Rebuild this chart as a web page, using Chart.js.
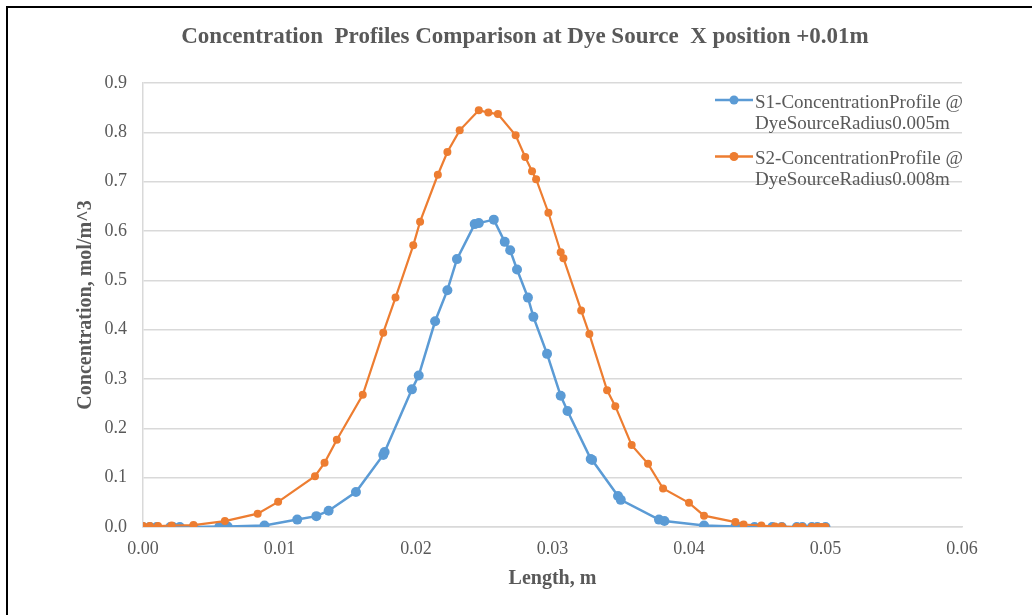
<!DOCTYPE html>
<html>
<head>
<meta charset="utf-8">
<script src="https://cdn.jsdelivr.net/npm/chart.js@4.4.0/dist/chart.umd.min.js"></script>
<style>
  html, body { margin: 0; background: #fff; overflow: hidden; }
  #wrap { position: relative; width: 1032px; height: 615px; overflow: hidden; }
  #frame { position: absolute; left: 6px; top: 6px; width: 1100px; height: 700px; border: 2px solid #000; pointer-events: none; }
</style>
</head>
<body>
<div id="wrap">
  <canvas id="myChart" width="1032" height="615"></canvas>
  <div id="frame"></div>
</div>
<script>
// values
var s1Length = [0.0000, 0.0005, 0.0010, 0.0020, 0.0022, 0.0027, 0.0037, 0.0056, 0.0062, 0.0089,
  0.0113, 0.0127, 0.0136, 0.0156, 0.0176, 0.0177, 0.0197, 0.0202, 0.0214, 0.0223,
  0.0230, 0.0243, 0.0246, 0.0257, 0.0265, 0.0269, 0.0274, 0.0282, 0.0286, 0.0296,
  0.0306, 0.0311, 0.0328, 0.0329, 0.0348, 0.0350, 0.0378, 0.0382, 0.0411, 0.0434,
  0.0439, 0.0448, 0.0461, 0.0468, 0.0479, 0.0483, 0.0490, 0.0494, 0.0500];
var s1Conc = [0.000, 0.000, 0.000, 0.000, 0.000, 0.000, 0.000, 0.001, 0.001, 0.003,
  0.015, 0.022, 0.033, 0.071, 0.146, 0.152, 0.279, 0.307, 0.417, 0.480,
  0.543, 0.614, 0.616, 0.623, 0.578, 0.561, 0.522, 0.465, 0.426, 0.351,
  0.266, 0.235, 0.138, 0.136, 0.063, 0.055, 0.015, 0.012, 0.003, 0.001,
  0.001, 0.000, 0.000, 0.000, 0.000, 0.000, 0.000, 0.000, 0.000];

var s2Length = [0.0000, 0.0005, 0.0011, 0.0021, 0.0037, 0.0060, 0.0084, 0.0099, 0.0126, 0.0133,
  0.0142, 0.0161, 0.0176, 0.0185, 0.0198, 0.0203, 0.0216, 0.0223, 0.0232, 0.0246,
  0.0253, 0.0260, 0.0273, 0.0280, 0.0285, 0.0288, 0.0297, 0.0306, 0.0308, 0.0321,
  0.0327, 0.0340, 0.0346, 0.0358, 0.0370, 0.0381, 0.0400, 0.0411, 0.0434, 0.0440,
  0.0453, 0.0463, 0.0468, 0.0479, 0.0483, 0.0490, 0.0494, 0.0497, 0.0500];
var s2Conc = [0.002, 0.002, 0.002, 0.003, 0.004, 0.012, 0.027, 0.051, 0.103, 0.130,
  0.177, 0.268, 0.394, 0.465, 0.571, 0.619, 0.714, 0.760, 0.804, 0.845,
  0.840, 0.837, 0.794, 0.750, 0.721, 0.705, 0.637, 0.557, 0.545, 0.439,
  0.391, 0.277, 0.245, 0.166, 0.128, 0.078, 0.049, 0.023, 0.010, 0.005,
  0.003, 0.001, 0.001, 0.000, 0.000, 0.000, 0.000, 0.000, 0.000];

var seriesNames = [
  ['S1-ConcentrationProfile @', 'DyeSourceRadius0.005m'],
  ['S2-ConcentrationProfile @', 'DyeSourceRadius0.008m']
];
var chartTitle = 'Concentration  Profiles Comparison at Dye Source  X position +0.01m';
var blue = '#5B9BD5';
var orange = '#ED7D31';
var grey = '#595959';

function toPoints(xs, ys) {
  return xs.map(function (x, i) { return { x: x, y: ys[i] }; });
}

// title sits a bit right of the canvas centre, and the two-line legend
// is drawn over the plot, like the Excel one
var excelBits = {
  id: 'excelBits',
  afterDraw: function (chart) {
    var ctx = chart.ctx;
    ctx.save();
    ctx.fillStyle = grey;
    ctx.font = 'bold 23px "Liberation Serif"';
    ctx.textAlign = 'center';
    ctx.textBaseline = 'alphabetic';
    ctx.fillText(chartTitle, 525, 43);

    ctx.textAlign = 'left';
    chart.data.datasets.forEach(function (ds, i) {
      var y = 100 + i * 56.5;
      ctx.strokeStyle = ds.borderColor;
      ctx.lineWidth = 2.5;
      ctx.beginPath();
      ctx.moveTo(715, y);
      ctx.lineTo(753, y);
      ctx.stroke();
      ctx.fillStyle = ds.borderColor;
      ctx.beginPath();
      ctx.arc(734, y, 4.5, 0, Math.PI * 2);
      ctx.fill();
      ctx.fillStyle = grey;
      ctx.font = '19px "Liberation Serif"';
      seriesNames[i].forEach(function (line, j) {
        ctx.fillText(line, 755, y + 7.5 + j * 21);
      });
    });
    ctx.restore();
  }
};

var ctxDir = document.getElementById('myChart');
var chart = new Chart(ctxDir, {
  type: 'scatter',
  data: {
    datasets: [{
      label: seriesNames[0].join(' '),
      data: toPoints(s1Length, s1Conc),
      showLine: true,
      borderColor: blue,
      backgroundColor: blue,
      borderWidth: 2.5,
      pointRadius: 5,
      pointBorderWidth: 0,
      order: 1
    }, {
      label: seriesNames[1].join(' '),
      data: toPoints(s2Length, s2Conc),
      showLine: true,
      borderColor: orange,
      backgroundColor: orange,
      borderWidth: 2.2,
      pointRadius: 4,
      pointBorderWidth: 0,
      order: 0
    }]
  },
  options: {
    responsive: false,
    animation: false,
    devicePixelRatio: 1,
    layout: { padding: { left: 0, right: 70, top: 83, bottom: 0 } },
    plugins: {
      legend: { display: false },
      tooltip: { enabled: false },
      title: { display: false }
    },
    scales: {
      x: {
        type: 'linear',
        min: 0,
        max: 0.06,
        afterFit: function (s) { s.height = 88; },
        ticks: {
          stepSize: 0.01,
          color: grey,
          padding: 11,
          font: { family: 'Liberation Serif', size: 18 },
          callback: function (v) { return v.toFixed(2); }
        },
        grid: { display: false, drawTicks: false },
        border: { color: '#D9D9D9', width: 1.5 },
        title: {
          display: true,
          text: 'Length, m',
          color: grey,
          font: { family: 'Liberation Serif', size: 20, weight: 'bold', lineHeight: 1.2 },
          padding: { top: 0, bottom: 24 }
        }
      },
      y: {
        min: 0,
        max: 0.9,
        afterFit: function (s) { s.width = 143; },
        ticks: {
          stepSize: 0.1,
          color: grey,
          padding: 16,
          font: { family: 'Liberation Serif', size: 18 },
          callback: function (v) { return v.toFixed(1); }
        },
        grid: { color: '#D9D9D9', lineWidth: 1.5, drawTicks: false },
        border: { color: '#D9D9D9', width: 1.5 },
        title: {
          display: true,
          text: 'Concentration, mol/m^3',
          color: grey,
          font: { family: 'Liberation Serif', size: 20, weight: 'bold', lineHeight: 1.2 },
          padding: { top: 74, bottom: 0 }
        }
      }
    }
  },
  plugins: [excelBits]
});
</script>
</body>
</html>
